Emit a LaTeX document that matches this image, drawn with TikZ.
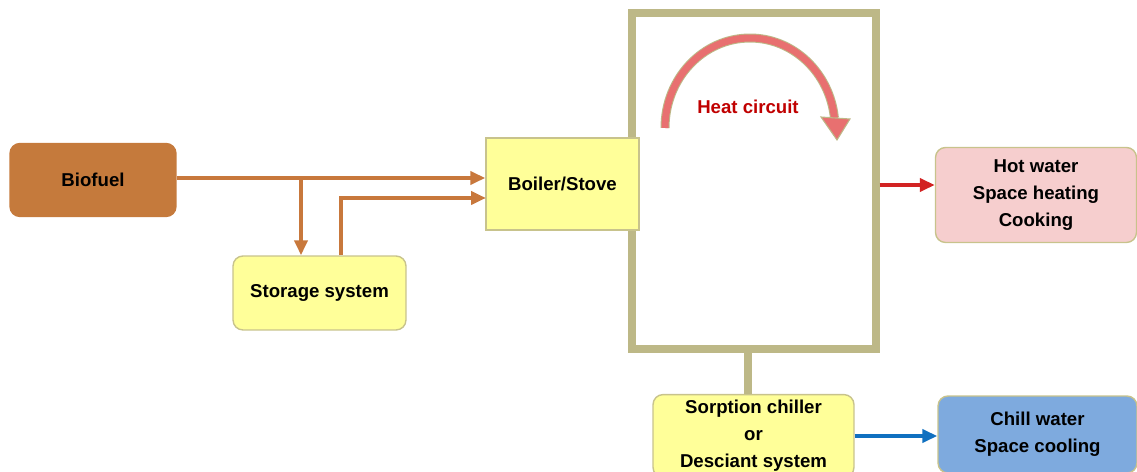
\documentclass[tikz,border=0pt]{standalone}
\usepackage{fontspec}
\setmainfont{Liberation Sans}
\usepackage{tikz}
\usetikzlibrary{arrows.meta}
\usetikzlibrary{positioning}
\usepackage{xcolor}
\definecolor{fuel}{RGB}{197,122,60}
\definecolor{fuelline}{RGB}{200,120,60}
\definecolor{pad}{RGB}{255,255,153}
\definecolor{padline}{RGB}{200,195,140}
\definecolor{frame}{RGB}{189,184,135}
\definecolor{hotfill}{RGB}{246,206,206}
\definecolor{chillfill}{RGB}{126,170,222}
\definecolor{hotarrow}{RGB}{210,35,35}
\definecolor{coldarrow}{RGB}{16,112,192}
\definecolor{heattext}{RGB}{192,0,0}
\definecolor{salmon}{RGB}{232,112,112}

\begin{document}
\begin{tikzpicture}[x=0.02cm, y=-0.02cm,
  every node/.style={font=\fontsize{10.6}{15.3}\selectfont\bfseries, align=center},
  box/.style={draw=padline, fill=pad, rounded corners=0.2cm, line width=0.8pt},
  feed/.style={fuelline, line width=2.3pt, -{Triangle[length=3mm, width=2.6mm]}}]
  \clip (0,0) rectangle (1137,472);
  \useasboundingbox (0,0) rectangle (1137,472);

  % heat circuit frame
  \node[draw=frame, line width=0.15cm, minimum width=4.88cm, minimum height=6.72cm] (circuit) at (754,181) {};

  \node[box, draw=fuel, fill=fuel, minimum width=3.32cm, minimum height=1.46cm] (biofuel) at (93,180) {Biofuel};
  \node[box, minimum width=3.46cm, minimum height=1.48cm] (storage) at (319.5,293) {Storage system};
  \node[box, rounded corners=0pt, minimum width=3.06cm, minimum height=1.84cm] (boiler) at (562.5,184) {Boiler/Stove};
  \node[box, fill=hotfill, minimum width=4.02cm, minimum height=1.9cm] (hot) at (1036,195) {Hot water\\Space heating\\Cooking};
  \node[box, minimum width=4.02cm, minimum height=1.6cm] (sorption) at (753.5,436) {Sorption chiller\\or\\Desciant system};
  \node[box, fill=chillfill, minimum width=3.98cm, minimum height=1.54cm] (chill) at (1037.5,434.5) {Chill water\\Space cooling};

  \coordinate (split) at (301,178);
  \coordinate (boilerin) at (486,198);

  \draw[feed] (split -| biofuel.east) -- (split -| boiler.west);
  \draw[feed] (split) -- (split |- storage.north);
  \draw[feed] ([xshift=0.43cm]storage.north) |- (boilerin);

  \draw[frame, line width=0.15cm] ([xshift=-0.12cm]circuit.south) -- ([xshift=-0.12cm]circuit.south |- sorption.north);
  \draw[hotarrow, line width=2.3pt, -{Triangle[length=3mm, width=2.6mm]}] ([yshift=-0.08cm]circuit.east) -- ([yshift=-0.08cm]circuit.east -| hot.west);
  \draw[coldarrow, line width=2.3pt, -{Triangle[length=3mm, width=2.6mm]}] (sorption.east) -- (sorption.east -| chill.west);

  % heat circuit arrow
  \coordinate (arcstart) at (665,128);
  \draw[frame, line width=0.18cm] (arcstart) arc[start angle=180, end angle=6.4, x radius=1.7cm, y radius=1.8cm];
  \draw[salmon, line width=0.14cm] (arcstart) arc[start angle=180, end angle=6.4, x radius=1.7cm, y radius=1.8cm];
  \draw[frame, fill=salmon, line width=0.6pt] (821,117) -- (850,119) -- (837,140) -- cycle;
  \node[text=heattext] (heat) at (748,107) {Heat circuit};
\end{tikzpicture}
\end{document}
